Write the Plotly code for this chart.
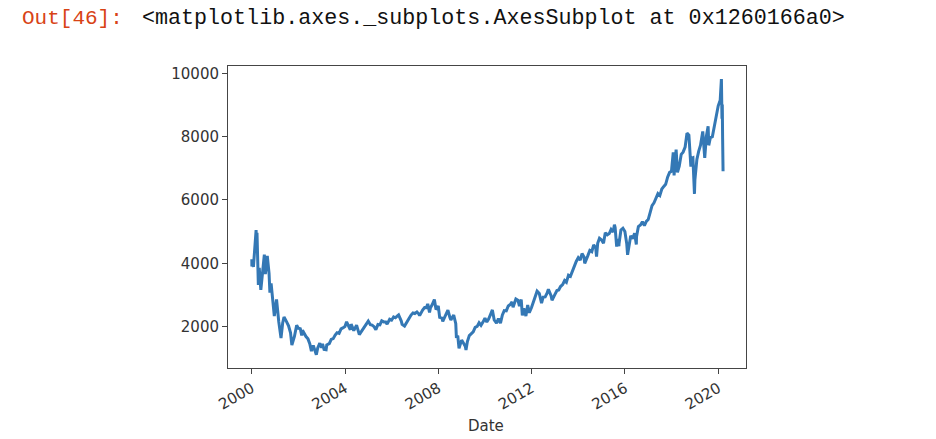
import plotly.graph_objects as go

# ---- data (index level by date) ----
dates = [
    "2000-01-03", "2000-01-04", "2000-01-14", "2000-01-28", "2000-02-18", "2000-02-29",
    "2000-03-10", "2000-03-15", "2000-03-24", "2000-04-14", "2000-04-28", "2000-05-23",
    "2000-06-30", "2000-07-17", "2000-08-02", "2000-09-01", "2000-09-29", "2000-10-12",
    "2000-10-31", "2000-11-30", "2000-12-20", "2000-12-29",
    "2001-01-24", "2001-02-28", "2001-03-22", "2001-04-04", "2001-04-30", "2001-05-21",
    "2001-06-29", "2001-07-31", "2001-08-31", "2001-09-21", "2001-10-31", "2001-11-30",
    "2001-12-05", "2001-12-31",
    "2002-01-31", "2002-02-22", "2002-03-06", "2002-04-30", "2002-05-31", "2002-06-28",
    "2002-07-24", "2002-08-22", "2002-09-30", "2002-10-09", "2002-10-31", "2002-12-02",
    "2002-12-31",
    "2003-01-14", "2003-02-07", "2003-03-11", "2003-03-21", "2003-04-30", "2003-05-30",
    "2003-06-30", "2003-07-31", "2003-08-29", "2003-09-30", "2003-10-31", "2003-11-28",
    "2003-12-31",
    "2004-01-26", "2004-02-27", "2004-03-24", "2004-04-06", "2004-05-17", "2004-06-30",
    "2004-08-12", "2004-09-30", "2004-10-29", "2004-11-30", "2004-12-30",
    "2005-01-31", "2005-02-28", "2005-03-31", "2005-04-28", "2005-05-31", "2005-06-30",
    "2005-07-29", "2005-08-31", "2005-09-30", "2005-10-21", "2005-11-30", "2005-12-30",
    "2006-01-31", "2006-02-28", "2006-03-31", "2006-04-19", "2006-05-31", "2006-06-13",
    "2006-07-21", "2006-08-31", "2006-09-29", "2006-10-31", "2006-11-30", "2006-12-29",
    "2007-01-31", "2007-02-27", "2007-03-14", "2007-04-30", "2007-05-31", "2007-06-29",
    "2007-07-19", "2007-08-16", "2007-08-31", "2007-09-28", "2007-10-31", "2007-11-26",
    "2007-12-31",
    "2008-01-22", "2008-02-29", "2008-03-10", "2008-04-30", "2008-05-30", "2008-06-30",
    "2008-07-15", "2008-08-29", "2008-09-30", "2008-10-10", "2008-10-31", "2008-11-20",
    "2008-12-31",
    "2009-01-30", "2009-02-27", "2009-03-09", "2009-03-31", "2009-04-30", "2009-05-29",
    "2009-06-30", "2009-07-31", "2009-08-31", "2009-09-30", "2009-10-30", "2009-11-30",
    "2009-12-31",
    "2010-01-29", "2010-02-26", "2010-03-31", "2010-04-26", "2010-05-25", "2010-06-30",
    "2010-07-30", "2010-08-31", "2010-09-30", "2010-10-29", "2010-11-30", "2010-12-31",
    "2011-01-31", "2011-02-28", "2011-03-16", "2011-04-29", "2011-05-31", "2011-06-24",
    "2011-07-22", "2011-08-08", "2011-08-31", "2011-10-03", "2011-10-31", "2011-11-25",
    "2011-12-30",
    "2012-01-31", "2012-02-29", "2012-03-26", "2012-04-30", "2012-05-31", "2012-06-04",
    "2012-06-29", "2012-07-31", "2012-08-31", "2012-09-19", "2012-10-31", "2012-11-15",
    "2012-12-31",
    "2013-01-31", "2013-02-28", "2013-03-28", "2013-04-30", "2013-05-31", "2013-06-28",
    "2013-07-31", "2013-08-30", "2013-09-30", "2013-10-31", "2013-11-29", "2013-12-31",
    "2014-01-31", "2014-02-28", "2014-03-31", "2014-04-11", "2014-04-30", "2014-05-30",
    "2014-06-30", "2014-07-31", "2014-08-29", "2014-09-30", "2014-10-13", "2014-10-31",
    "2014-11-28", "2014-12-31",
    "2015-01-30", "2015-02-27", "2015-03-31", "2015-04-30", "2015-05-29", "2015-06-30",
    "2015-07-20", "2015-07-31", "2015-08-24", "2015-08-31", "2015-09-28", "2015-09-30",
    "2015-10-30", "2015-11-30", "2015-12-31",
    "2016-01-29", "2016-02-11", "2016-02-29", "2016-03-31", "2016-04-29", "2016-05-31",
    "2016-06-27", "2016-06-30", "2016-07-29", "2016-08-31", "2016-09-30", "2016-10-31",
    "2016-11-30", "2016-12-30",
    "2017-01-31", "2017-02-28", "2017-03-31", "2017-04-28", "2017-05-31", "2017-06-30",
    "2017-07-31", "2017-08-31", "2017-09-29", "2017-10-31", "2017-11-30", "2017-12-29",
    "2018-01-26", "2018-02-08", "2018-02-28", "2018-03-12", "2018-04-02", "2018-04-30",
    "2018-05-31", "2018-06-29", "2018-07-31", "2018-08-29", "2018-09-28", "2018-10-29",
    "2018-10-31", "2018-11-30", "2018-12-24", "2018-12-31",
    "2019-01-31", "2019-02-28", "2019-03-29", "2019-05-03", "2019-05-31", "2019-06-03",
    "2019-06-28", "2019-07-26", "2019-08-05", "2019-08-30", "2019-09-30", "2019-10-31",
    "2019-11-29", "2019-12-31",
    "2020-01-31", "2020-02-19", "2020-02-28", "2020-03-04", "2020-03-09", "2020-03-12",
    "2020-03-13", "2020-03-16",
]

values = [
    4131, 3901, 4064, 3887, 4411, 4696,
    5048, 4583, 4963, 3321, 3860, 3164,
    3966, 4274, 3658, 4234, 3673, 3074,
    3370, 2598, 2333, 2471,
    2859, 2152, 1830, 1638, 2116, 2305,
    2161, 2027, 1805, 1423, 1690, 1931,
    2046, 1950,
    1934, 1725, 1890, 1688, 1616, 1463,
    1229, 1410, 1172, 1114, 1330, 1479,
    1336,
    1460, 1283, 1272, 1422, 1464, 1596,
    1623, 1735, 1810, 1787, 1932, 1960,
    2003,
    2153, 2030, 1902, 2079, 1876, 2048,
    1752, 1897, 1975, 2097, 2178,
    2062, 2052, 1999, 1904, 2068, 2057,
    2185, 2152, 2152, 2082, 2233, 2205,
    2306, 2281, 2340, 2370, 2179, 2073,
    2020, 2184, 2258, 2367, 2432, 2415,
    2464, 2407, 2350, 2525, 2605, 2603,
    2720, 2451, 2596, 2701, 2859, 2540,
    2652,
    2292, 2271, 2169, 2413, 2523, 2293,
    2215, 2368, 2092, 1649, 1721, 1316,
    1577,
    1476, 1378, 1268, 1529, 1717, 1774,
    1835, 1979, 2009, 2122, 2045, 2145,
    2269,
    2147, 2238, 2398, 2530, 2211, 2109,
    2255, 2114, 2369, 2507, 2498, 2653,
    2700, 2782, 2617, 2874, 2835, 2652,
    2859, 2357, 2579, 2335, 2684, 2441,
    2605,
    2814, 2967, 3122, 3046, 2827, 2747,
    2935, 2940, 3067, 3183, 2977, 2836,
    3020,
    3142, 3160, 3268, 3329, 3456, 3403,
    3626, 3590, 3771, 3920, 4060, 4177,
    4104, 4308, 4199, 3999, 4115, 4243,
    4408, 4370, 4580, 4493, 4214, 4631,
    4792, 4736,
    4635, 4964, 4901, 4941, 5070, 4987,
    5219, 5128, 4526, 4777, 4543, 4620,
    5054, 5109, 5007,
    4614, 4267, 4558, 4870, 4775, 4948,
    4594, 4843, 5162, 5213, 5312, 5189,
    5324, 5383,
    5615, 5825, 5912, 6048, 6199, 6140,
    6348, 6429, 6496, 6728, 6874, 6903,
    7506, 6777, 7273, 7589, 6870, 7066,
    7442, 7510, 7672, 8110, 8046, 7050,
    7306, 7331, 6193, 6635,
    7282, 7533, 7729, 8164, 7453, 7333,
    8006, 8330, 7726, 7963, 7999, 8292,
    8665, 8973,
    9151, 9817, 8567, 9018, 7950, 7201,
    7875, 6904,
]

y_ticks = [2000, 4000, 6000, 8000, 10000]
x_axis_title = "Date"
prompt_text = "Out[46]:"
repr_text = "&lt;matplotlib.axes._subplots.AxesSubplot at 0x1260166a0&gt;"

# ---- figure (the page's body margin is removed so the figure fills the window) ----
W, H = 936, 439
L, R, T, B = 228, 190, 66, 71
PW, PH = W - L - R, H - T - B


def px_x(px):
    return (px - L) / PW


def px_y(py):
    return (H - B - py) / PH


fig = go.Figure()
fig.add_trace(go.Scatter(
    x=dates, y=values, mode="lines",
    line=dict(color="#3478b5", width=3),
    hoverinfo="skip", showlegend=False,
))

axis_common = dict(
    showgrid=False, zeroline=False, automargin=False,
    showline=True, linecolor="#454545", linewidth=1, mirror=True,
    ticks="outside", ticklen=5, tickwidth=1, tickcolor="#454545",
    tickfont=dict(family="DejaVu Sans", size=15, color="#333333"),
)

fig.update_layout(
    width=W, height=H,
    margin=dict(l=L, r=R, t=T, b=B, autoexpand=False),
    paper_bgcolor="white", plot_bgcolor="white",
    hovermode=False,
    xaxis=dict(
        type="date",
        range=["1998-12-26", "2021-03-10"],
        tick0="2000-01-01", dtick="M48", tickformat="%Y",
        tickangle=-30,
        **axis_common,
    ),
    yaxis=dict(
        range=[696, 10230],
        tickvals=y_ticks,
        ticktext=[str(v) for v in y_ticks],
        **axis_common,
    ),
    annotations=[
        dict(text=prompt_text, xref="paper", yref="paper",
             x=px_x(20), y=px_y(18), xanchor="left", yanchor="middle",
             showarrow=False,
             font=dict(family="Liberation Mono", size=21, color="#D84315")),
        dict(text=repr_text, xref="paper", yref="paper",
             x=px_x(140), y=px_y(18), xanchor="left", yanchor="middle",
             showarrow=False,
             font=dict(family="Liberation Mono", size=21.7, color="#111111")),
        dict(text=x_axis_title, xref="paper", yref="paper",
             x=px_x(486), y=px_y(426), xanchor="center", yanchor="middle",
             showarrow=False,
             font=dict(family="DejaVu Sans", size=15, color="#333333")),
    ],
)

fig.write_html(
    "out.html",
    config={"displayModeBar": False, "staticPlot": True},
    post_script="document.body.style.margin='0px';document.body.style.overflow='hidden';",
)
